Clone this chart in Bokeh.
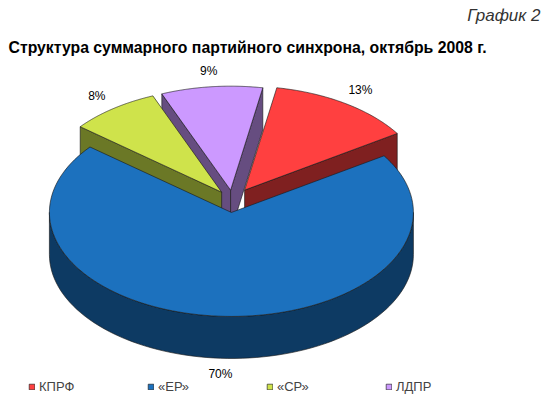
import numpy as np
from bokeh.plotting import figure
from bokeh.models import Range1d, Label, Legend, LegendItem
from bokeh.core.properties import value
from bokeh.embed import file_html
from bokeh.resources import INLINE

# ---- data ----
parties = ["КПРФ", "«ЕР»", "«СР»", "ЛДПР"]
shares = [13, 70, 8, 9]
share_labels = ["13%", "70%", "8%", "9%"]
title_text = "Структура суммарного партийного синхрона, октябрь 2008 г."
tag_text = "График 2"

# ---- style ----
top_colors = ["#FF4040", "#1C71BE", "#CFE34B", "#CC99FF"]
side_colors = ["#7F2020", "#0D3A63", "#6B7826", "#664D80"]
explode = [0.12, 0.115, 0.10, 0.10]
FONT = "Liberation Sans"

# geometry (canvas-pixel-like data units, y grows downward)
CX, CY = 232.0, 200.0
RX, RY = 182.0, 104.0
DEPTH = 42.0
START = 79.8  # first slice angle (degrees, counter-clockwise from +x); slices go clockwise
LABEL_R = 1.15

W, H = 550, 407
p = figure(width=W, height=H, x_range=Range1d(0, W), y_range=Range1d(H, 0),
           x_axis_type=None, y_axis_type=None, toolbar_location=None,
           output_backend="svg", min_border=0, outline_line_color=None,
           background_fill_color="white", border_fill_color="white")
p.grid.visible = False


def rim(cx, cy, th, drop=0.0):
    t = np.radians(th)
    return cx + RX * np.cos(t), cy - RY * np.sin(t) + drop


total = float(sum(shares))
slices = []
cum = START
for i, v in enumerate(shares):
    sweep = v / total * 360.0
    hi = cum
    lo = cum - sweep
    cum = lo
    mid = (lo + hi) / 2.0
    m = np.radians(mid)
    sx = CX + explode[i] * RX * np.cos(m)
    sy = CY - explode[i] * RY * np.sin(m)
    slices.append(dict(i=i, lo=lo, hi=hi, mid=mid, sx=sx, sy=sy))

# painter's order: back (upper) slices first
order = sorted(slices, key=lambda s: -np.sin(np.radians(s["mid"])))

LINE = dict(line_color="#1a1a1a", line_width=0.7, line_alpha=0.9)
top_renderers = {}
for s in order:
    i, lo, hi, sx, sy = s["i"], s["lo"], s["hi"], s["sx"], s["sy"]
    # radial cut faces
    for ang, vis in ((hi, np.cos(np.radians(hi)) < 0), (lo, np.cos(np.radians(lo)) > 0)):
        if vis:
            rx_, ry_ = rim(sx, sy, ang)
            xs = [sx, rx_, rx_, sx]
            ys = [sy, ry_, ry_ + DEPTH, sy + DEPTH]
            p.patch(xs, ys, fill_color=side_colors[i], **LINE)
    # outer curved side (front half only)
    for k in range(-2, 3):
        a = max(lo, -180.0 + 360.0 * k)
        b = min(hi, 360.0 * k)
        if b > a:
            th = np.linspace(a, b, 80)
            tx, ty = rim(sx, sy, th)
            bx, by = rim(sx, sy, th[::-1], DEPTH)
            p.patch(list(tx) + list(bx), list(ty) + list(by),
                    fill_color=side_colors[i], **LINE)
    # top face
    th = np.linspace(hi, lo, 120)
    tx, ty = rim(sx, sy, th)
    r = p.patch([sx] + list(tx), [sy] + list(ty), fill_color=top_colors[i], **LINE)
    top_renderers[i] = r

# percentage labels
lx, ly = [], []
for s in slices:
    m = np.radians(s["mid"])
    x = s["sx"] + LABEL_R * RX * np.cos(m)
    y = s["sy"] - LABEL_R * RY * np.sin(m) + (DEPTH if np.sin(m) < 0 else 0.0)
    lx.append(x)
    ly.append(y)
p.text(x=lx, y=ly, text=share_labels, text_font=value(FONT), text_font_size="12px",
       text_align="center", text_baseline="middle", text_color="#000000")

# titles
p.add_layout(Label(x=8, y=47, text=title_text, text_font=FONT, text_font_size="15.8px",
                   text_font_style="bold", text_baseline="middle", text_align="left",
                   text_color="#000000"))
p.add_layout(Label(x=540, y=15, text=tag_text, text_font=FONT, text_font_size="17px",
                   text_font_style="italic", text_baseline="middle", text_align="right",
                   text_color="#333333"))

legend = Legend(items=[LegendItem(label=parties[i], renderers=[top_renderers[i]]) for i in range(4)],
                orientation="horizontal", location=(28, 13),
                glyph_width=7, glyph_height=7, label_standoff=4, label_width=100, spacing=8,
                label_text_font=FONT, label_text_font_size="13px", label_height=14,
                padding=0, margin=0, border_line_color=None, background_fill_alpha=0)
p.add_layout(legend)

open("out.html", "w").write(file_html(p, INLINE))
